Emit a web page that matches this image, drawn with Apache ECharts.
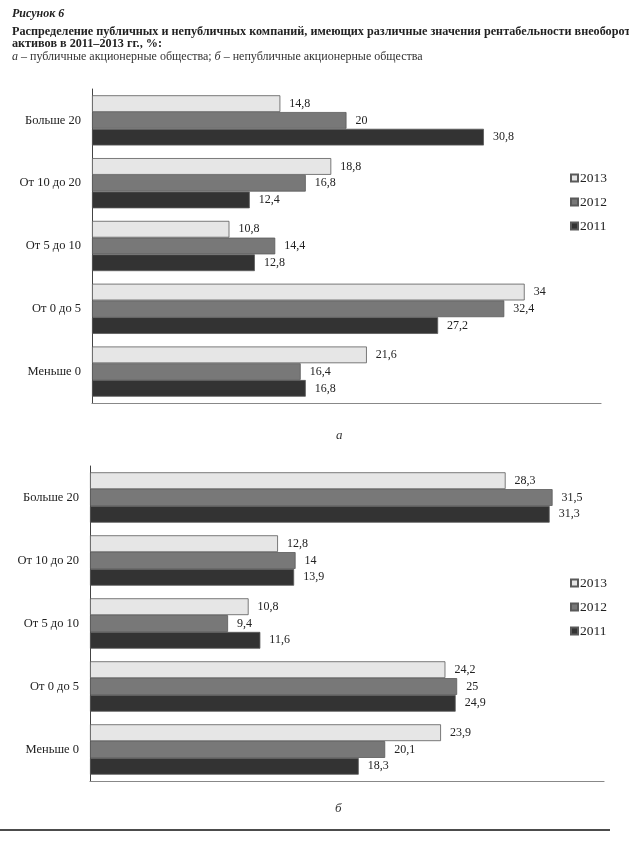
<!DOCTYPE html>
<html><head><meta charset="utf-8">
<script src="https://cdn.jsdelivr.net/npm/echarts@6/dist/echarts.min.js"></script>
<style>html,body{margin:0;padding:0;background:#fff;}#c{width:629px;height:847px;}</style>
</head><body><div id="c"></div>
<script>
const categories = ['Больше 20', 'От 10 до 20', 'От 5 до 10', 'От 0 до 5', 'Меньше 0'];
const years = ['2013', '2012', '2011'];
// chart а — публичные
const pub2013 = [14.8, 18.8, 10.8, 34, 21.6];
const pub2012 = [20, 16.8, 14.4, 32.4, 16.4];
const pub2011 = [30.8, 12.4, 12.8, 27.2, 16.8];
// chart б — непубличные
const npub2013 = [28.3, 12.8, 10.8, 24.2, 23.9];
const npub2012 = [31.5, 14, 9.4, 25, 20.1];
const npub2011 = [31.3, 13.9, 11.6, 24.9, 18.3];

const colors = {'2013': '#e6e6e6', '2012': '#787878', '2011': '#333333'};
const SERIF = '"Liberation Serif", "DejaVu Serif", serif';

function mk(name, data, idx) {
  return {
    type: 'bar', name: name, data: data, xAxisIndex: idx, yAxisIndex: idx,
    barGap: '0%', barCategoryGap: '20%',
    itemStyle: {color: colors[name], borderColor: '#5a5a5a', borderWidth: 0.8},
    label: {show: true, position: 'right', distance: 9, fontFamily: SERIF, fontSize: 12, color: '#222',
      formatter: p => String(p.value).replace('.', ',')},
    emphasis: {disabled: true}
  };
}

const chart = echarts.init(document.getElementById('c'));
const catAxis = (gi) => ({
  type: 'category', gridIndex: gi, data: categories, inverse: true,
  axisLine: {show: true, lineStyle: {color: '#444', width: 1}},
  axisTick: {show: false},
  axisLabel: {fontFamily: SERIF, fontSize: 12.5, color: '#222', margin: 11}
});
const valAxis = (gi, max) => ({
  type: 'value', gridIndex: gi, min: 0, max: max,
  axisLine: {show: true, lineStyle: {color: '#888', width: 1.2}},
  axisTick: {show: false}, axisLabel: {show: false}, splitLine: {show: false}
});
const legendCfg = (top) => ({
  orient: 'vertical', left: 570, top: top, padding: 0, itemWidth: 7, itemHeight: 7, itemGap: 10,
  icon: 'rect', data: years,
  textStyle: {fontFamily: SERIF, fontSize: 13.5, color: '#222', padding: [0, 0, 0, -3]}
});

chart.setOption({
  animation: false,
  backgroundColor: '#fff',
  title: [
    {text: 'Рисунок 6', left: 7, top: 3, textStyle: {fontFamily: SERIF, fontSize: 12, fontWeight: 'bold', fontStyle: 'italic', color: '#222'}},
    {text: 'Распределение публичных и непубличных компаний, имеющих различные значения рентабельности внеоборотных', left: 7, top: 21,
      textStyle: {fontFamily: SERIF, fontSize: 12.2, fontWeight: 'bold', color: '#222'}},
    {text: 'активов в 2011–2013 гг., %:', left: 7, top: 33, textStyle: {fontFamily: SERIF, fontSize: 12.2, fontWeight: 'bold', color: '#222'}},
    {text: '{i|а} – публичные акционерные общества; {i|б} – непубличные акционерные общества', left: 7, top: 46,
      textStyle: {fontFamily: SERIF, fontSize: 12, fontWeight: 'normal', color: '#333',
        rich: {i: {fontFamily: SERIF, fontSize: 12, fontStyle: 'italic', color: '#333'}}}},
    {text: 'а', left: 331, top: 424, textStyle: {fontFamily: SERIF, fontSize: 13, fontStyle: 'italic', fontWeight: 'normal', color: '#333'}},
    {text: 'б', left: 330, top: 797, textStyle: {fontFamily: SERIF, fontSize: 13, fontStyle: 'italic', fontWeight: 'normal', color: '#333'}}
  ],
  legend: [legendCfg(171), legendCfg(576)],
  grid: [
    {left: 92, top: 89, width: 509, height: 314},
    {left: 90, top: 466, width: 514, height: 315}
  ],
  xAxis: [valAxis(0, 40), valAxis(1, 35)],
  yAxis: [catAxis(0), catAxis(1)],
  series: [
    mk('2013', pub2013, 0), mk('2012', pub2012, 0), mk('2011', pub2011, 0),
    mk('2013', npub2013, 1), mk('2012', npub2012, 1), mk('2011', npub2011, 1)
  ],
  graphic: [
    {type: 'line', shape: {x1: 0, y1: 830, x2: 610, y2: 830}, style: {stroke: '#111', lineWidth: 1.5}}
  ]
});
</script></body></html>
